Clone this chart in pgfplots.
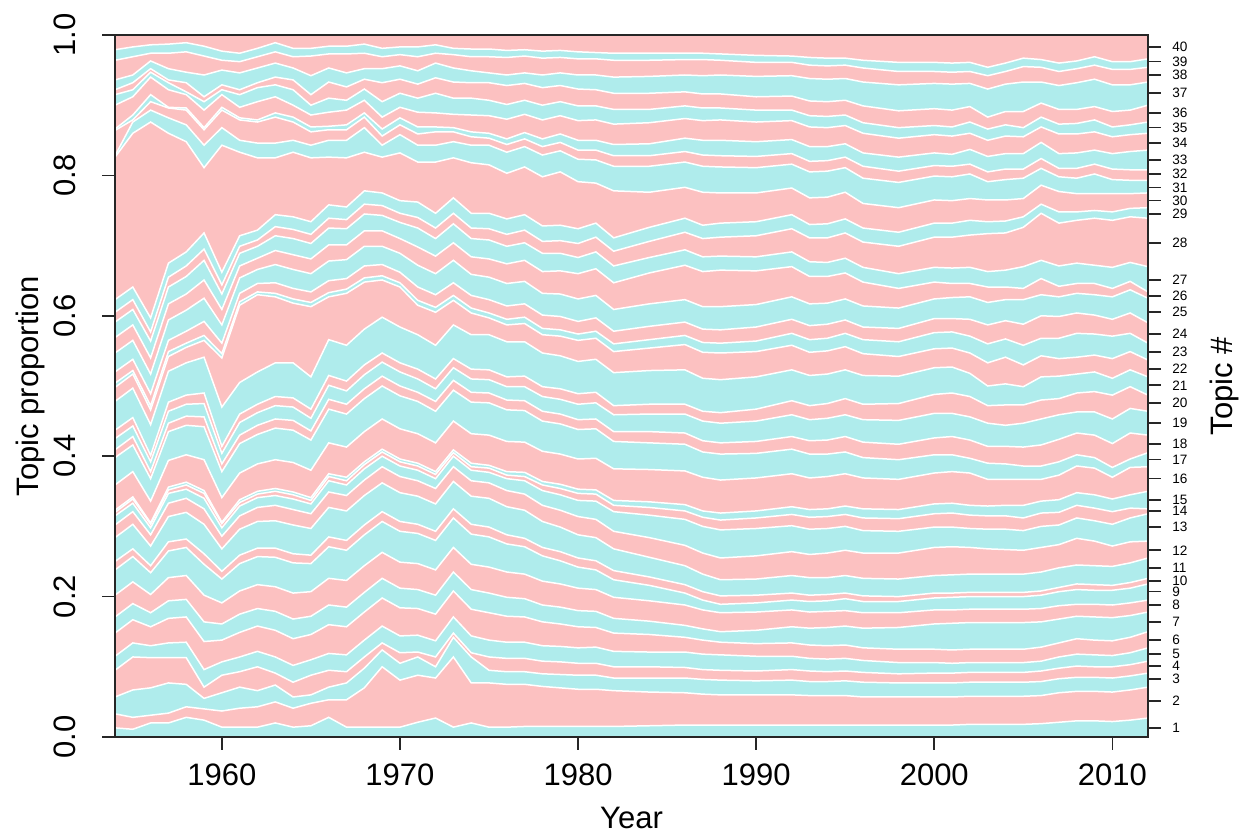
\documentclass[border=0pt]{standalone}
\usepackage{pgfplots}
\pgfplotsset{compat=1.18}
\usepackage{pgfplotstable}
\usepackage{fontspec}
\setmainfont{Liberation Sans}
\definecolor{tpink}{RGB}{252,193,193}
\definecolor{tcyan}{RGB}{175,236,236}
\foreach \i in {1,3,...,39}{\xglobal\colorlet{lay\i}{tcyan}}
\foreach \i in {2,4,...,38}{\xglobal\colorlet{lay\i}{tpink}}

\pgfplotstableread{
yr b1 b2 b3 b4 b5 b6 b7 b8 b9 b10 b11 b12 b13 b14 b15 b16 b17 b18 b19 b20 b21 b22 b23 b24 b25 b26 b27 b28 b29 b30 b31 b32 b33 b34 b35 b36 b37 b38 b39
1954 0.013 0.033 0.057 0.095 0.115 0.148 0.171 0.202 0.238 0.250 0.284 0.302 0.315 0.320 0.323 0.359 0.398 0.409 0.425 0.437 0.478 0.498 0.504 0.520 0.547 0.569 0.591 0.605 0.623 0.826 0.828 0.864 0.866 0.900 0.915 0.922 0.936 0.964 0.979
1955 0.011 0.028 0.067 0.114 0.134 0.167 0.190 0.221 0.257 0.268 0.303 0.321 0.333 0.339 0.342 0.378 0.416 0.428 0.443 0.455 0.497 0.517 0.522 0.538 0.565 0.587 0.609 0.623 0.641 0.860 0.876 0.879 0.886 0.912 0.922 0.932 0.943 0.969 0.983
1956 0.020 0.031 0.070 0.113 0.130 0.157 0.177 0.203 0.234 0.244 0.272 0.288 0.298 0.303 0.305 0.336 0.368 0.378 0.392 0.401 0.445 0.466 0.472 0.489 0.517 0.540 0.564 0.577 0.597 0.876 0.893 0.905 0.915 0.940 0.947 0.952 0.963 0.974 0.986
1957 0.020 0.034 0.077 0.113 0.134 0.169 0.194 0.227 0.265 0.278 0.314 0.333 0.347 0.352 0.356 0.394 0.435 0.447 0.464 0.477 0.521 0.542 0.549 0.565 0.594 0.617 0.641 0.655 0.675 0.860 0.882 0.896 0.897 0.922 0.932 0.936 0.952 0.974 0.987
1958 0.028 0.043 0.075 0.113 0.135 0.171 0.196 0.230 0.270 0.282 0.320 0.340 0.353 0.359 0.363 0.402 0.444 0.457 0.474 0.487 0.533 0.555 0.561 0.578 0.608 0.631 0.656 0.671 0.691 0.848 0.872 0.893 0.896 0.915 0.919 0.932 0.947 0.976 0.989
1959 0.024 0.040 0.055 0.071 0.096 0.136 0.164 0.202 0.246 0.261 0.303 0.325 0.340 0.347 0.351 0.395 0.442 0.456 0.475 0.490 0.541 0.565 0.572 0.592 0.625 0.651 0.679 0.695 0.718 0.811 0.843 0.865 0.868 0.893 0.905 0.912 0.943 0.970 0.984
1960 0.014 0.037 0.063 0.088 0.107 0.138 0.161 0.191 0.225 0.236 0.268 0.286 0.298 0.304 0.306 0.341 0.378 0.389 0.404 0.414 0.470 0.540 0.546 0.561 0.587 0.609 0.631 0.644 0.662 0.843 0.868 0.893 0.897 0.915 0.922 0.929 0.950 0.964 0.977
1961 0.014 0.041 0.071 0.093 0.114 0.149 0.175 0.208 0.247 0.259 0.296 0.315 0.329 0.334 0.338 0.376 0.418 0.430 0.448 0.460 0.505 0.615 0.620 0.632 0.654 0.671 0.689 0.699 0.714 0.833 0.850 0.879 0.882 0.897 0.915 0.922 0.946 0.962 0.974
1962 0.014 0.043 0.066 0.100 0.122 0.158 0.183 0.217 0.257 0.269 0.307 0.327 0.341 0.346 0.350 0.389 0.431 0.444 0.462 0.474 0.520 0.630 0.634 0.646 0.666 0.682 0.699 0.708 0.722 0.825 0.846 0.876 0.879 0.905 0.925 0.932 0.953 0.969 0.981
1963 0.020 0.050 0.074 0.091 0.114 0.152 0.179 0.214 0.256 0.269 0.308 0.330 0.344 0.350 0.354 0.395 0.440 0.453 0.472 0.485 0.533 0.627 0.632 0.647 0.673 0.693 0.714 0.727 0.744 0.825 0.846 0.883 0.889 0.912 0.929 0.940 0.960 0.976 0.989
1964 0.014 0.041 0.057 0.078 0.102 0.140 0.168 0.205 0.248 0.261 0.302 0.324 0.339 0.345 0.349 0.391 0.437 0.451 0.470 0.483 0.533 0.618 0.624 0.639 0.666 0.687 0.710 0.723 0.741 0.833 0.850 0.876 0.883 0.900 0.922 0.936 0.953 0.969 0.981
1965 0.016 0.048 0.060 0.088 0.110 0.146 0.172 0.207 0.247 0.259 0.297 0.318 0.332 0.337 0.341 0.380 0.423 0.436 0.454 0.467 0.513 0.613 0.619 0.634 0.660 0.681 0.703 0.716 0.734 0.825 0.843 0.862 0.869 0.886 0.900 0.915 0.942 0.970 0.981
1966 0.028 0.053 0.071 0.095 0.119 0.160 0.188 0.226 0.271 0.285 0.327 0.349 0.365 0.371 0.375 0.419 0.467 0.481 0.501 0.515 0.566 0.627 0.633 0.650 0.678 0.701 0.725 0.739 0.758 0.826 0.850 0.865 0.870 0.890 0.910 0.933 0.953 0.973 0.984
1967 0.014 0.053 0.077 0.093 0.117 0.157 0.185 0.223 0.266 0.280 0.322 0.344 0.359 0.365 0.370 0.413 0.460 0.474 0.493 0.507 0.558 0.632 0.638 0.653 0.680 0.701 0.724 0.737 0.755 0.825 0.850 0.865 0.872 0.893 0.907 0.926 0.946 0.973 0.984
1968 0.014 0.070 0.098 0.114 0.138 0.178 0.206 0.244 0.288 0.302 0.344 0.366 0.382 0.388 0.392 0.435 0.482 0.496 0.516 0.530 0.581 0.648 0.654 0.671 0.699 0.721 0.745 0.759 0.778 0.833 0.868 0.883 0.889 0.907 0.923 0.937 0.952 0.974 0.987
1969 0.014 0.100 0.124 0.134 0.158 0.198 0.226 0.263 0.307 0.321 0.362 0.385 0.400 0.406 0.410 0.453 0.500 0.514 0.534 0.547 0.598 0.651 0.657 0.673 0.699 0.721 0.743 0.757 0.775 0.826 0.843 0.856 0.866 0.883 0.905 0.932 0.952 0.969 0.981
1970 0.014 0.081 0.105 0.120 0.144 0.184 0.212 0.249 0.293 0.307 0.348 0.371 0.386 0.392 0.396 0.439 0.486 0.500 0.520 0.533 0.584 0.641 0.647 0.662 0.689 0.710 0.733 0.746 0.764 0.832 0.858 0.872 0.882 0.897 0.917 0.937 0.956 0.972 0.983
1971 0.021 0.088 0.114 0.121 0.145 0.183 0.210 0.247 0.290 0.303 0.343 0.365 0.380 0.386 0.390 0.432 0.478 0.491 0.510 0.524 0.573 0.615 0.622 0.641 0.672 0.698 0.725 0.740 0.762 0.819 0.843 0.859 0.869 0.890 0.910 0.930 0.949 0.969 0.983
1972 0.027 0.084 0.100 0.114 0.137 0.175 0.202 0.238 0.280 0.293 0.332 0.354 0.368 0.374 0.378 0.419 0.464 0.478 0.496 0.510 0.558 0.605 0.612 0.630 0.660 0.685 0.710 0.725 0.746 0.819 0.843 0.862 0.869 0.889 0.917 0.939 0.960 0.974 0.986
1973 0.014 0.114 0.142 0.148 0.171 0.208 0.235 0.270 0.312 0.325 0.364 0.385 0.400 0.405 0.409 0.450 0.494 0.508 0.526 0.539 0.587 0.622 0.629 0.647 0.679 0.704 0.731 0.746 0.768 0.825 0.848 0.862 0.868 0.887 0.910 0.933 0.953 0.972 0.981
1974 0.020 0.077 0.114 0.120 0.144 0.182 0.210 0.246 0.289 0.303 0.343 0.365 0.380 0.385 0.390 0.432 0.477 0.491 0.510 0.524 0.573 0.604 0.611 0.629 0.659 0.684 0.710 0.725 0.746 0.818 0.843 0.855 0.862 0.886 0.910 0.932 0.949 0.969 0.980
1975 0.014 0.077 0.095 0.114 0.138 0.177 0.205 0.242 0.285 0.299 0.340 0.362 0.377 0.383 0.387 0.430 0.476 0.490 0.509 0.523 0.573 0.597 0.604 0.623 0.655 0.681 0.708 0.724 0.746 0.815 0.843 0.853 0.860 0.885 0.907 0.932 0.946 0.969 0.980
1976 0.014 0.075 0.093 0.112 0.135 0.172 0.199 0.235 0.275 0.288 0.328 0.351 0.368 0.373 0.378 0.421 0.466 0.480 0.499 0.513 0.563 0.587 0.595 0.614 0.646 0.674 0.699 0.716 0.738 0.803 0.833 0.844 0.852 0.880 0.901 0.928 0.943 0.968 0.978
1977 0.015 0.075 0.093 0.112 0.135 0.171 0.197 0.232 0.271 0.283 0.323 0.346 0.365 0.371 0.377 0.420 0.465 0.479 0.499 0.514 0.563 0.589 0.598 0.617 0.649 0.679 0.704 0.722 0.744 0.812 0.841 0.852 0.861 0.887 0.907 0.931 0.946 0.970 0.979
1978 0.015 0.072 0.090 0.108 0.130 0.164 0.188 0.222 0.258 0.270 0.307 0.330 0.351 0.359 0.364 0.407 0.450 0.464 0.485 0.499 0.547 0.573 0.582 0.601 0.632 0.663 0.689 0.706 0.728 0.798 0.829 0.841 0.852 0.879 0.900 0.925 0.943 0.967 0.977
1979 0.015 0.070 0.089 0.107 0.129 0.161 0.185 0.218 0.251 0.264 0.299 0.323 0.345 0.354 0.360 0.403 0.446 0.460 0.481 0.496 0.543 0.571 0.580 0.599 0.631 0.664 0.689 0.707 0.729 0.805 0.835 0.847 0.859 0.885 0.905 0.928 0.946 0.968 0.978
1980 0.015 0.068 0.088 0.105 0.127 0.157 0.180 0.212 0.242 0.255 0.288 0.314 0.337 0.347 0.353 0.396 0.438 0.452 0.474 0.489 0.535 0.565 0.574 0.592 0.624 0.660 0.683 0.703 0.724 0.791 0.823 0.836 0.850 0.878 0.899 0.923 0.943 0.966 0.976
1981 0.015 0.068 0.088 0.105 0.128 0.156 0.179 0.210 0.238 0.251 0.284 0.310 0.336 0.346 0.352 0.397 0.439 0.453 0.476 0.491 0.538 0.568 0.578 0.597 0.629 0.667 0.691 0.712 0.732 0.789 0.822 0.836 0.850 0.879 0.899 0.922 0.943 0.966 0.975
1982 0.015 0.066 0.084 0.100 0.122 0.148 0.169 0.199 0.224 0.237 0.268 0.293 0.321 0.330 0.337 0.382 0.421 0.435 0.459 0.472 0.519 0.549 0.560 0.578 0.609 0.647 0.671 0.692 0.711 0.778 0.813 0.828 0.844 0.873 0.894 0.917 0.940 0.964 0.974
1984 0.016 0.064 0.084 0.100 0.121 0.146 0.165 0.194 0.216 0.228 0.256 0.284 0.316 0.327 0.335 0.381 0.419 0.435 0.460 0.474 0.522 0.554 0.566 0.585 0.617 0.661 0.683 0.706 0.726 0.776 0.813 0.828 0.845 0.875 0.894 0.917 0.941 0.964 0.974
1986 0.017 0.063 0.084 0.099 0.121 0.142 0.159 0.188 0.205 0.217 0.244 0.273 0.310 0.322 0.331 0.379 0.417 0.433 0.460 0.474 0.523 0.559 0.572 0.591 0.623 0.672 0.694 0.719 0.739 0.783 0.819 0.834 0.853 0.881 0.899 0.919 0.943 0.965 0.974
1987 0.017 0.061 0.082 0.096 0.118 0.138 0.154 0.181 0.195 0.207 0.232 0.262 0.300 0.313 0.322 0.370 0.406 0.422 0.450 0.464 0.511 0.548 0.562 0.581 0.613 0.663 0.684 0.710 0.729 0.776 0.813 0.829 0.850 0.878 0.896 0.916 0.942 0.965 0.974
1988 0.017 0.060 0.081 0.095 0.117 0.135 0.150 0.177 0.189 0.201 0.224 0.255 0.295 0.309 0.319 0.366 0.403 0.419 0.447 0.462 0.509 0.547 0.561 0.580 0.613 0.665 0.685 0.712 0.732 0.775 0.812 0.828 0.850 0.879 0.896 0.916 0.943 0.964 0.973
1990 0.017 0.060 0.080 0.094 0.115 0.133 0.152 0.178 0.191 0.202 0.225 0.258 0.297 0.312 0.322 0.369 0.404 0.421 0.450 0.467 0.513 0.549 0.564 0.584 0.616 0.664 0.684 0.714 0.734 0.775 0.811 0.827 0.848 0.876 0.893 0.912 0.941 0.961 0.971
1992 0.017 0.060 0.081 0.096 0.115 0.134 0.157 0.181 0.195 0.205 0.230 0.264 0.301 0.317 0.328 0.375 0.410 0.428 0.459 0.479 0.523 0.558 0.575 0.595 0.627 0.670 0.691 0.724 0.744 0.782 0.816 0.831 0.851 0.878 0.893 0.913 0.942 0.961 0.970
1993 0.017 0.059 0.079 0.094 0.112 0.131 0.155 0.178 0.193 0.202 0.227 0.260 0.296 0.313 0.324 0.369 0.403 0.422 0.452 0.472 0.515 0.548 0.566 0.586 0.617 0.656 0.677 0.711 0.730 0.768 0.805 0.820 0.841 0.869 0.885 0.906 0.938 0.957 0.968
1994 0.017 0.059 0.079 0.093 0.111 0.130 0.156 0.179 0.194 0.203 0.227 0.262 0.297 0.314 0.325 0.371 0.403 0.423 0.454 0.475 0.517 0.550 0.568 0.588 0.618 0.656 0.676 0.711 0.731 0.769 0.806 0.821 0.841 0.868 0.884 0.905 0.937 0.956 0.967
1995 0.017 0.059 0.080 0.094 0.112 0.131 0.158 0.180 0.197 0.205 0.230 0.266 0.300 0.317 0.329 0.375 0.406 0.428 0.459 0.482 0.523 0.556 0.575 0.594 0.624 0.661 0.682 0.718 0.738 0.776 0.811 0.826 0.845 0.871 0.886 0.907 0.938 0.957 0.967
1996 0.017 0.057 0.078 0.092 0.109 0.127 0.155 0.177 0.193 0.201 0.226 0.262 0.294 0.312 0.325 0.369 0.398 0.420 0.452 0.474 0.515 0.546 0.566 0.584 0.614 0.648 0.669 0.705 0.725 0.760 0.796 0.813 0.832 0.860 0.875 0.899 0.933 0.953 0.964
1998 0.017 0.057 0.077 0.090 0.106 0.125 0.156 0.177 0.193 0.200 0.225 0.262 0.293 0.311 0.324 0.367 0.395 0.417 0.451 0.475 0.514 0.542 0.563 0.582 0.611 0.639 0.660 0.699 0.719 0.754 0.790 0.806 0.826 0.853 0.868 0.892 0.929 0.948 0.961
2000 0.017 0.057 0.077 0.091 0.106 0.125 0.161 0.181 0.198 0.205 0.230 0.270 0.299 0.318 0.332 0.376 0.402 0.426 0.461 0.488 0.526 0.553 0.576 0.596 0.624 0.648 0.669 0.712 0.732 0.765 0.799 0.814 0.832 0.858 0.871 0.895 0.931 0.948 0.961
2001 0.017 0.057 0.077 0.091 0.105 0.124 0.162 0.181 0.199 0.205 0.231 0.271 0.299 0.319 0.333 0.378 0.402 0.428 0.461 0.490 0.527 0.554 0.577 0.596 0.626 0.646 0.668 0.712 0.732 0.764 0.798 0.813 0.830 0.856 0.869 0.893 0.930 0.947 0.960
2002 0.018 0.058 0.078 0.092 0.106 0.125 0.163 0.182 0.200 0.206 0.232 0.270 0.297 0.316 0.330 0.376 0.397 0.423 0.456 0.485 0.518 0.547 0.571 0.595 0.627 0.646 0.669 0.715 0.736 0.767 0.802 0.816 0.837 0.860 0.876 0.898 0.931 0.948 0.961
2003 0.018 0.058 0.078 0.092 0.106 0.125 0.163 0.182 0.200 0.206 0.232 0.268 0.296 0.315 0.329 0.367 0.390 0.414 0.447 0.472 0.500 0.533 0.560 0.587 0.619 0.641 0.663 0.717 0.734 0.765 0.791 0.805 0.827 0.850 0.866 0.883 0.923 0.942 0.954
2004 0.018 0.058 0.078 0.092 0.106 0.125 0.163 0.182 0.200 0.206 0.232 0.267 0.296 0.315 0.330 0.367 0.389 0.414 0.444 0.473 0.503 0.541 0.567 0.593 0.623 0.641 0.665 0.718 0.735 0.765 0.794 0.809 0.831 0.856 0.872 0.891 0.930 0.948 0.960
2005 0.018 0.058 0.078 0.092 0.106 0.125 0.163 0.182 0.200 0.206 0.232 0.266 0.294 0.312 0.330 0.367 0.386 0.413 0.447 0.473 0.499 0.530 0.558 0.588 0.623 0.639 0.670 0.726 0.741 0.767 0.796 0.809 0.831 0.855 0.868 0.891 0.933 0.955 0.967
2006 0.019 0.059 0.079 0.094 0.108 0.128 0.164 0.183 0.202 0.208 0.235 0.270 0.300 0.319 0.336 0.367 0.386 0.416 0.453 0.480 0.513 0.543 0.568 0.600 0.630 0.653 0.679 0.746 0.759 0.786 0.810 0.824 0.847 0.869 0.883 0.903 0.933 0.954 0.965
2007 0.021 0.063 0.083 0.098 0.114 0.134 0.168 0.187 0.207 0.213 0.241 0.274 0.302 0.320 0.338 0.373 0.392 0.424 0.459 0.482 0.514 0.539 0.568 0.599 0.627 0.642 0.671 0.732 0.748 0.777 0.798 0.810 0.831 0.859 0.873 0.894 0.928 0.948 0.960
2008 0.023 0.065 0.085 0.101 0.118 0.140 0.172 0.189 0.210 0.218 0.245 0.283 0.312 0.330 0.348 0.386 0.402 0.433 0.463 0.490 0.517 0.541 0.575 0.604 0.632 0.646 0.675 0.736 0.748 0.774 0.796 0.810 0.832 0.859 0.874 0.894 0.932 0.952 0.963
2009 0.023 0.065 0.085 0.100 0.117 0.138 0.171 0.189 0.209 0.217 0.244 0.279 0.308 0.326 0.345 0.383 0.398 0.430 0.463 0.492 0.520 0.544 0.574 0.601 0.630 0.646 0.672 0.739 0.750 0.774 0.802 0.816 0.836 0.862 0.879 0.898 0.937 0.957 0.969
2010 0.022 0.064 0.084 0.100 0.116 0.137 0.170 0.188 0.209 0.216 0.243 0.272 0.303 0.321 0.339 0.370 0.384 0.418 0.453 0.487 0.511 0.539 0.571 0.595 0.627 0.639 0.669 0.736 0.748 0.774 0.794 0.809 0.831 0.855 0.869 0.891 0.929 0.951 0.962
2011 0.024 0.067 0.087 0.103 0.120 0.142 0.173 0.191 0.212 0.220 0.248 0.278 0.312 0.326 0.345 0.384 0.396 0.433 0.468 0.499 0.523 0.549 0.575 0.604 0.637 0.649 0.676 0.741 0.753 0.774 0.793 0.808 0.834 0.858 0.872 0.893 0.929 0.951 0.962
2012 0.027 0.071 0.091 0.108 0.127 0.150 0.178 0.195 0.218 0.226 0.255 0.279 0.318 0.325 0.350 0.385 0.405 0.430 0.464 0.487 0.513 0.537 0.561 0.590 0.625 0.634 0.670 0.739 0.754 0.775 0.793 0.808 0.836 0.860 0.876 0.900 0.933 0.954 0.966
}\data

\begin{document}
\begin{tikzpicture}
\useasboundingbox (-57.5pt,-48pt) rectangle (562pt,368.5pt);
\begin{axis}[
  at={(0pt,0pt)}, anchor=south west,
  scale only axis, width=516.5pt, height=351pt,
  xmin=1954, xmax=2012, ymin=0, ymax=1,
  axis on top, clip mode=individual,
  axis line style={line width=0.8pt, black!85},
  every tick/.style={line width=0.8pt, black!85},
  tick align=outside, major tick length=6.5pt,
  xtick={1960,1970,1980,1990,2000,2010},
  xticklabels={1960,1970,1980,1990,2000,2010},
  ytick={0,0.2,0.4,0.6,0.8,1},
  yticklabels={0.0,0.2,0.4,0.6,0.8,1.0},
  xtick pos=bottom, ytick pos=left,
  /pgf/number format/assume math mode=true,
  tick label style={font=\fontsize{15.5}{16}\selectfont, inner sep=0pt},
  xticklabel style={anchor=north},
  xticklabel shift=6.5pt,
  yticklabel style={rotate=90, anchor=south},
  yticklabel shift=13pt,
]
\addplot[fill=tpink, draw=none] coordinates {(1954,1) (2012,1)} \closedcycle;
\pgfplotsinvokeforeach{39,38,...,1}{
  \addplot[fill=lay#1, draw=none] table[x=yr,y=b#1]{\data} \closedcycle;
}
\pgfplotsinvokeforeach{1,...,39}{
  \addplot[white, line width=0.75pt] table[x=yr,y=b#1]{\data};
}
\node[font=\fontsize{15.5}{18}\selectfont, yshift=-40.5pt] at (axis description cs:0.5,0) {Year};
\node[font=\fontsize{15.5}{18}\selectfont, xshift=-42.5pt, rotate=90] at (axis description cs:0,0.5) {Topic proportion};
\node[font=\fontsize{15.5}{18}\selectfont, xshift=38.5pt, rotate=90] at (axis description cs:1,0.5) {Topic \#};
\end{axis}
\begin{axis}[
  at={(0pt,0pt)}, anchor=south west,
  scale only axis, width=516.5pt, height=351pt,
  xmin=1954, xmax=2012, ymin=0, ymax=1,
  hide x axis, axis y line*=right,
  axis line style={line width=0.8pt, black!85},
  every tick/.style={line width=0.8pt, black!85},
  tick align=outside, major tick length=6.5pt,
  ytick={0.0128,0.0513,0.0826,0.101,0.118,0.138,0.164,0.188,0.207,0.222,0.241,0.266,0.299,0.322,0.338,0.368,0.395,0.417,0.447,0.476,0.501,0.524,0.548,0.574,0.605,0.628,0.651,0.704,0.745,0.764,0.783,0.802,0.822,0.846,0.868,0.889,0.917,0.943,0.962,0.983},
  yticklabels={1,2,3,4,5,6,7,8,9,10,11,12,13,14,15,16,17,18,19,20,21,22,23,24,25,26,27,28,29,30,31,32,33,34,35,36,37,38,39,40},
  yticklabel style={font=\fontsize{6.8}{7}\selectfont, anchor=west, inner sep=0pt},
  yticklabel shift=5.5pt,
]
\addplot[draw=none] coordinates {(1954,0) (2012,1)};
\end{axis}
\end{tikzpicture}
\end{document}
